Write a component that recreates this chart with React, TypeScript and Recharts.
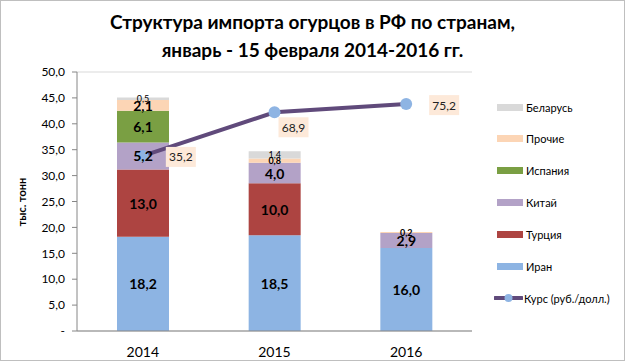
import React from 'react';
import { ComposedChart, Bar, Line, XAxis, YAxis, CartesianGrid, LabelList } from 'recharts';

const years = ['2014', '2015', '2016'];
const iran = [18.2, 18.5, 16.0];
const turkey = [13.0, 10.0, 0];
const china = [5.2, 4.0, 2.9];
const spain = [6.1, 0, 0];
const other = [2.1, 0.8, 0.2];
const belarus = [0.5, 1.4, 0];
const rate = [35.2, 68.9, 75.2];
const yTicks = [0, 5, 10, 15, 20, 25, 30, 35, 40, 45, 50];

const FONT = 'Lato, "Open Sans", sans-serif';

const series = [
  { key: 'iran', name: 'Иран', color: '#8db4e3', values: iran, bold: true },
  { key: 'turkey', name: 'Турция', color: '#ad4441', values: turkey, bold: true },
  { key: 'china', name: 'Китай', color: '#b3a2c7', values: china, bold: true },
  { key: 'spain', name: 'Испания', color: '#7a9f43', values: spain, bold: true },
  { key: 'other', name: 'Прочие', color: '#fcd5b5', values: other, bold: true },
  { key: 'belarus', name: 'Беларусь', color: '#d9d9d9', values: belarus, bold: false },
];

const lineName = 'Курс (руб./долл.)';
const lineColor = '#604a7b';
const dotColor = '#8eb4e3';
const ratePlacement = ['right', 'below', 'right'];

const data = years.map((y, i) => {
  const row: any = { year: y, rate: rate[i] };
  series.forEach((s) => (row[s.key] = s.values[i]));
  return row;
});

const fmt = (v: number) => v.toFixed(1).replace('.', ',');

const makeBarLabel = (values: number[], bold: boolean) => (props: any) => {
  const { x, y, width, height, index } = props;
  const v = values[index];
  if (!v) return null;
  const big = v >= 2;
  return (
    <text
      x={Number(x) + Number(width) / 2}
      y={Number(y) + Number(height) / 2}
      textAnchor="middle"
      dominantBaseline="central"
      fontSize={big ? 14 : 9}
      fontWeight={bold ? 700 : 400}
      fontFamily={FONT}
      fill="#000"
    >
      {fmt(v)}
    </text>
  );
};

const rateLabel = (props: any) => {
  const { x, y, index } = props;
  const v = rate[index];
  const place = ratePlacement[index];
  const cx = place === 'right' ? Number(x) + 22 + 16 : Number(x) + 19;
  const cy = place === 'right' ? Number(y) + 1 : Number(y) + 15;
  return (
    <g>
      <rect x={cx - 15} y={cy - 10} width={30} height={20} fill="#fde9d9" />
      <text x={cx} y={cy} textAnchor="middle" dominantBaseline="central" fontSize={12} fontFamily={FONT} fill="#222">
        {fmt(v)}
      </text>
    </g>
  );
};

const legendItems = [...series].reverse();

export default function App() {
  return (
    <div style={{ position: 'absolute', left: 0, top: 0, width: 625, height: 361, background: '#fff', fontFamily: FONT }}>
      <div
        style={{
          position: 'absolute',
          left: 0,
          top: 8,
          width: 625,
          textAlign: 'center',
          fontSize: 19,
          fontWeight: 700,
          lineHeight: '28px',
          color: '#000',
        }}
      >
        Структура импорта огурцов в РФ по странам,
        <br />
        январь - 15 февраля 2014-2016 гг.
      </div>
      <div style={{ position: 'absolute', left: 0, top: 0 }}>
        <ComposedChart width={625} height={361} data={data} margin={{ top: 72, right: 153, bottom: 0, left: 27 }}>
          <CartesianGrid vertical={false} stroke="#d9d9d9" />
          <XAxis
            dataKey="year"
            height={30}
            tickLine={false}
            axisLine={{ stroke: '#868686' }}
            tick={{ fontSize: 14, fill: '#000', fontFamily: FONT }}
            tickMargin={10}
          />
          <YAxis
            yAxisId="left"
            width={50}
            domain={[0, 50]}
            ticks={yTicks}
            interval={0}
            tickSize={5}
            tickMargin={7}
            axisLine={{ stroke: '#868686' }}
            tickLine={{ stroke: '#868686' }}
            tick={{ fontSize: 12, fill: '#000', fontFamily: FONT }}
            tickFormatter={(v: number) => (v === 0 ? '-' : fmt(v))}
            label={{
              content: () => (
                <text
                  x={21}
                  y={202}
                  transform="rotate(-90 21 202)"
                  textAnchor="middle"
                  dominantBaseline="central"
                  fontSize={11}
                  fontWeight={700}
                  fontFamily={FONT}
                  fill="#000"
                >
                  тыс. тонн
                </text>
              ),
            }}
          />
          <YAxis yAxisId="right" orientation="right" hide domain={[-100, 100]} />
          {series.map((s) => (
            <Bar
              key={s.key}
              yAxisId="left"
              dataKey={s.key}
              name={s.name}
              stackId="a"
              fill={s.color}
              barSize={52}
              isAnimationActive={false}
            >
              <LabelList content={makeBarLabel(s.values, s.bold)} />
            </Bar>
          ))}
          <Line
            yAxisId="right"
            dataKey="rate"
            name={lineName}
            stroke={lineColor}
            strokeWidth={4}
            dot={{ r: 6, fill: dotColor, stroke: dotColor, strokeWidth: 0 }}
            activeDot={false}
            isAnimationActive={false}
          >
            <LabelList content={rateLabel} />
          </Line>
        </ComposedChart>
      </div>
      <div style={{ position: 'absolute', left: 0, top: 0 }}>
        {legendItems.map((s, i) => (
          <div
            key={s.key}
            style={{ position: 'absolute', left: 497, top: 107 + i * 31.8 - 8, height: 16, display: 'flex', alignItems: 'center', whiteSpace: 'nowrap' }}
          >
            <div style={{ width: 26, height: 7, background: s.color, marginRight: 3 }} />
            <span style={{ fontSize: 11, color: '#000' }}>{s.name}</span>
          </div>
        ))}
        <div
          style={{ position: 'absolute', left: 494, top: 298 - 8, height: 16, display: 'flex', alignItems: 'center', whiteSpace: 'nowrap' }}
        >
          <svg width={29} height={16} style={{ marginRight: 1 }}>
            <line x1={1} y1={8} x2={28} y2={8} stroke={lineColor} strokeWidth={4} strokeLinecap="round" />
            <circle cx={14.5} cy={8} r={4} fill={dotColor} />
          </svg>
          <span style={{ fontSize: 11, color: '#000' }}>{lineName}</span>
        </div>
      </div>
      <div
        style={{
          position: 'absolute',
          left: 0,
          top: 0,
          width: 625,
          height: 361,
          boxSizing: 'border-box',
          border: '1px solid #bfbfbf',
          pointerEvents: 'none',
        }}
      />
    </div>
  );
}
